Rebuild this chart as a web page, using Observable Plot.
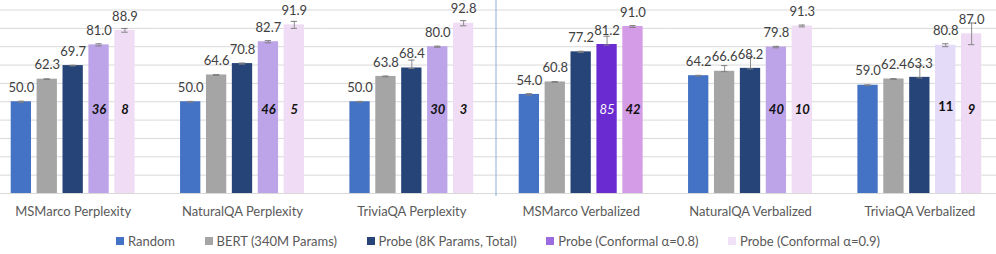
<!DOCTYPE html>
<html><head><meta charset="utf-8">
<script src="https://cdn.jsdelivr.net/npm/d3@7"></script>
<script src="https://cdn.jsdelivr.net/npm/@observablehq/plot@0.6"></script>
<style>
html,body{margin:0;padding:0;background:#fff;font-family:Lato,sans-serif;}
#legend{display:flex;justify-content:center;gap:29.5px;height:32px;box-sizing:border-box;padding-top:5px;align-items:center;font-size:13px;color:#595959;}
.item{display:flex;align-items:center;gap:4px;white-space:nowrap}
.sw{width:8px;height:8px;display:inline-block}
</style></head><body><div id="chart"></div><div id="legend"></div>
<script>
// ---- data ----
const groups = ["MSMarco Perplexity","NaturalQA Perplexity","TriviaQA Perplexity","MSMarco Verbalized","NaturalQA Verbalized","TriviaQA Verbalized"];
const series = ["Random","BERT (340M Params)","Probe (8K Params, Total)","Probe (Conformal α=0.8)","Probe (Conformal α=0.9)"];
const random = [50.0,50.0,50.0,54.0,64.2,59.0];
const bert   = [62.3,64.6,63.8,60.8,66.6,62.4];
const probe  = [69.7,70.8,68.4,77.2,68.2,63.3];
const conf08 = [81.0,82.7,80.0,81.2,79.8,80.8];
const conf09 = [88.9,91.9,92.8,91.0,91.3,87.0];
const randomErrUp = [0.3,0.2,0.2,0.4,0.2,0.2], randomErrDown = [0.3,0.2,0.2,0.4,0.2,0.2];
const bertErrUp   = [0.2,0.2,0.2,0.2,3.1,0.2], bertErrDown   = [0.2,0.2,0.2,0.2,0.2,0.2];
const probeErrUp  = [0.2,0.3,4.3,0.3,6.3,6.3], probeErrDown  = [0.2,0.3,0.3,0.3,0.3,0.3];
const conf08ErrUp = [0.6,0.6,0.3,4.5,0.4,0.8], conf08ErrDown = [0.6,0.6,0.3,0.3,0.4,0.8];
const conf09ErrUp = [1.0,1.9,1.4,0.5,0.5,5.9], conf09ErrDown = [1.0,1.9,1.4,0.5,0.5,5.9];
const conf08Count = [36,46,30,85,40,11];
const conf09Count = [8,5,3,42,10,9];
const yTicks = [0,10,20,30,40,50,60,70,80,90,100];

// ---- styles ----
const seriesColors = ["#4472C4","#A5A5A5","#264478","#BDA4E9","#F0DDF5"];
const legendColors = ["#4472C4","#A5A5A5","#264478","#9B6BE0","#F0E0F8"];
const highlight = {"MSMarco Verbalized|3":"#6A2BD0","MSMarco Verbalized|4":"#D49BE6","TriviaQA Verbalized|3":"#E3DBF8","TriviaQA Verbalized|4":"#EFDAF5"};

const values = [random,bert,probe,conf08,conf09];
const ups = [randomErrUp,bertErrUp,probeErrUp,conf08ErrUp,conf09ErrUp];
const downs = [randomErrDown,bertErrDown,probeErrDown,conf08ErrDown,conf09ErrDown];
const rows = [];
groups.forEach((g,i)=>series.forEach((s,j)=>{
  rows.push({group:g,series:s,value:values[j][i],lo:values[j][i]-downs[j][i],hi:values[j][i]+ups[j][i],
    fill: highlight[g+"|"+j] || seriesColors[j]});
}));
const counts = [];
groups.forEach((g,i)=>{
  counts.push({group:g,series:series[3],n:conf08Count[i],white:i===3,upright:false});
  counts.push({group:g,series:series[4],n:conf09Count[i],white:false,upright:false});
});
counts.forEach(c=>{ if(c.group==="TriviaQA Verbalized" && c.series===series[3]) c.upright=true; });

const plot = Plot.plot({
  width:996, height:222,
  marginLeft:-12, marginRight:-8, marginTop:9.5, marginBottom:29,
  style:{fontFamily:"Lato, sans-serif", fontSize:"13px", color:"#595959", background:"white", overflow:"visible"},
  fx:{domain:groups, padding:0, round:false, axis:"bottom", label:null, tickSize:0, tickPadding:13},
  x:{domain:series, axis:null, round:false, paddingInner:0.216, paddingOuter:0.877},
  y:{domain:[0,100], axis:null},
  color:{type:"identity"},
  marks:[
    Plot.ruleY(yTicks,{stroke:"#D9D9D9"}),
    Plot.barY(rows,{fx:"group",x:"series",y:"value",fill:"fill"}),
    Plot.ruleX(rows,{fx:"group",x:"series",y1:"lo",y2:"hi",stroke:"#8C8C8C"}),
    Plot.tickY(rows,{fx:"group",x:"series",y:"lo",stroke:"#7F7F7F",insetLeft:7,insetRight:7}),
    Plot.tickY(rows,{fx:"group",x:"series",y:"hi",stroke:"#7F7F7F",insetLeft:7,insetRight:7}),
    Plot.text(rows,{fx:"group",x:"series",y:"value",text:d=>d.value.toFixed(1),dy:-14,fill:"#404040",fontSize:13}),
    Plot.text(counts.filter(c=>!c.white&&!c.upright),{fx:"group",x:"series",text:"n",frameAnchor:"bottom",dy:-80,fill:"#111",fontWeight:"bold",fontStyle:"italic",fontSize:13}),
    Plot.text(counts.filter(c=>c.upright),{fx:"group",x:"series",text:"n",frameAnchor:"bottom",dy:-83,fill:"#111",fontWeight:"bold",fontSize:13}),
    Plot.text(counts.filter(c=>c.white),{fx:"group",x:"series",text:"n",frameAnchor:"bottom",dy:-80,fill:"#fff",fontStyle:"italic",fontSize:13})
  ]
});
document.getElementById("chart").appendChild(plot);

// separator between perplexity and verbalized groups
const fx = plot.scale("fx"), y = plot.scale("y");
const xs = fx.apply(groups[3]);
d3.select(plot).append("line")
  .attr("x1",xs).attr("x2",xs).attr("y1",0).attr("y2",y.apply(0)+3)
  .attr("stroke","#8FAADC").attr("stroke-width",1);

// legend
const lg = d3.select("#legend");
series.forEach((s,j)=>{
  const it = lg.append("div").attr("class","item");
  it.append("span").attr("class","sw").style("background",legendColors[j]);
  it.append("span").text(s);
});
</script></body></html>
